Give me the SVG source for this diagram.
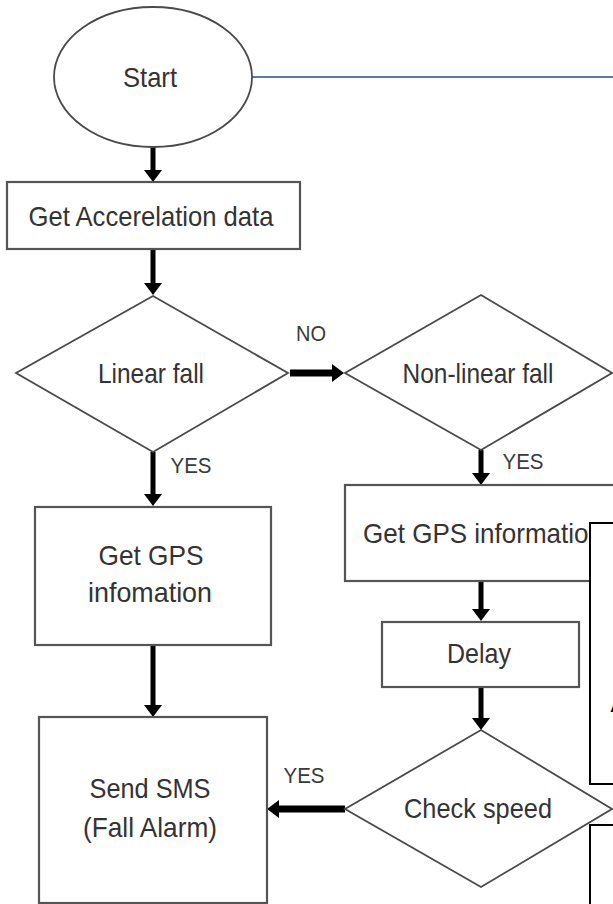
<svg xmlns="http://www.w3.org/2000/svg" width="613" height="904" viewBox="0 0 613 904">
<style>
.shape{fill:#fff;stroke:#4a4a4a;stroke-width:1.8}
.box{fill:#fff;stroke:#555;stroke-width:2.2}
.lbl{font-family:"Liberation Sans",Arial,sans-serif;font-size:28px;fill:#333;text-anchor:middle}
.small{font-family:"Liberation Sans",Arial,sans-serif;font-size:22px;fill:#3a3a3a;text-anchor:middle}
.arr{stroke:#000;stroke-width:5;fill:none;marker-end:url(#ah)}
.arrh{stroke:#000;stroke-width:7;fill:none;marker-end:url(#ah)}
.over{fill:#fff;stroke:#000;stroke-width:2}
</style>
<defs>
<marker id="ah" markerUnits="userSpaceOnUse" markerWidth="13" markerHeight="18" refX="2" refY="9" orient="auto">
<path d="M0,0 L12,9 L0,18 z" fill="#000"/>
</marker>
</defs>
<rect width="613" height="904" fill="#fff"/>

<g id="connectors">
<line x1="252" y1="77" x2="613" y2="77" stroke="#5d7b96" stroke-width="2"/>
<line class="arr" x1="153" y1="147" x2="153" y2="172"/>
<line class="arr" x1="153" y1="249" x2="153" y2="285"/>
<line class="arrh" x1="290" y1="373" x2="334" y2="373"/>
<line class="arr" x1="153" y1="452" x2="153" y2="496"/>
<line class="arr" x1="481" y1="450" x2="481" y2="475"/>
<line class="arr" x1="481" y1="581" x2="481" y2="611"/>
<line class="arr" x1="481" y1="687" x2="481" y2="720"/>
<line class="arr" x1="153" y1="645" x2="153" y2="707"/>
<line class="arrh" x1="345" y1="809" x2="277" y2="809"/>
<text class="small" x="311" y="341" textLength="30" lengthAdjust="spacingAndGlyphs">NO</text>
<text class="small" x="191" y="473" textLength="41" lengthAdjust="spacingAndGlyphs">YES</text>
<text class="small" x="523" y="469" textLength="41" lengthAdjust="spacingAndGlyphs">YES</text>
<text class="small" x="304" y="783" textLength="41" lengthAdjust="spacingAndGlyphs">YES</text>
</g>

<g id="start">
<ellipse class="shape" cx="153" cy="77" rx="99" ry="70"/>
<text class="lbl" x="150" y="87" textLength="54" lengthAdjust="spacingAndGlyphs">Start</text>
</g>

<g id="accel">
<rect class="box" x="7" y="182" width="293" height="67"/>
<text class="lbl" x="151" y="226" textLength="245" lengthAdjust="spacingAndGlyphs">Get Accerelation data</text>
</g>

<g id="linear">
<polygon class="shape" points="153,296 288,373 153,452 16,373"/>
<text class="lbl" x="151" y="383" textLength="106" lengthAdjust="spacingAndGlyphs">Linear fall</text>
</g>

<g id="nonlinear">
<polygon class="shape" points="481,295 612,373 481,450 345,373"/>
<text class="lbl" x="478" y="383" textLength="151" lengthAdjust="spacingAndGlyphs">Non-linear fall</text>
</g>

<g id="gps-left">
<rect class="box" x="35" y="507" width="236" height="138"/>
<text class="lbl" x="151" y="565" textLength="105" lengthAdjust="spacingAndGlyphs">Get GPS</text>
<text class="lbl" x="150" y="602" textLength="124" lengthAdjust="spacingAndGlyphs">infomation</text>
</g>

<g id="gps-right">
<rect class="box" x="345" y="485" width="280" height="96"/>
<text class="lbl" x="363" y="543" style="text-anchor:start" textLength="240" lengthAdjust="spacingAndGlyphs">Get GPS information</text>
</g>

<g id="delay">
<rect class="box" x="382" y="622" width="197" height="65"/>
<text class="lbl" x="479" y="663" textLength="64" lengthAdjust="spacingAndGlyphs">Delay</text>
</g>

<g id="check">
<polygon class="shape" points="481,730 612,809 481,887 345,809"/>
<text class="lbl" x="478" y="818" textLength="148" lengthAdjust="spacingAndGlyphs">Check speed</text>
</g>

<g id="sms">
<rect class="box" x="39" y="717" width="228" height="186"/>
<text class="lbl" x="150" y="798" textLength="121" lengthAdjust="spacingAndGlyphs">Send SMS</text>
<text class="lbl" x="150" y="837" textLength="134" lengthAdjust="spacingAndGlyphs">(Fall Alarm)</text>
</g>

<g id="overlay">
<rect class="over" x="590" y="523" width="40" height="261"/>
<text x="610.5" y="712" font-family="Liberation Sans, Arial, sans-serif" font-size="26" fill="#000">A</text>
<rect class="over" x="590" y="825" width="40" height="100"/>
</g>
</svg>
